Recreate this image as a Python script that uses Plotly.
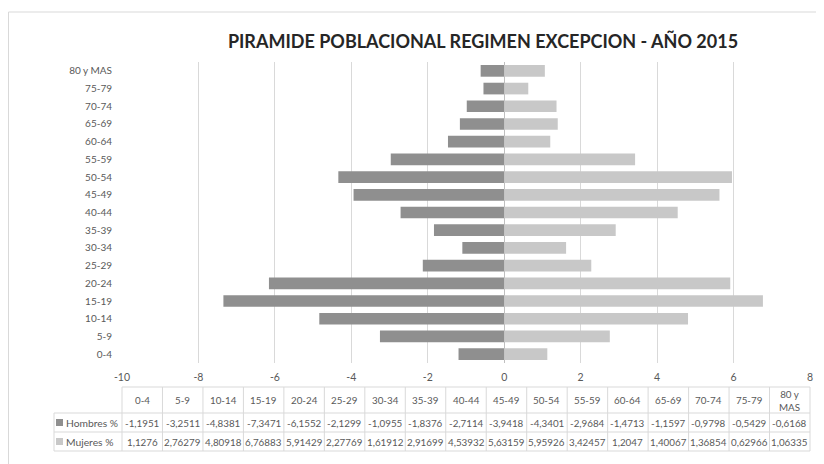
import plotly.graph_objects as go

categorias = ["0-4", "5-9", "10-14", "15-19", "20-24", "25-29", "30-34", "35-39",
              "40-44", "45-49", "50-54", "55-59", "60-64", "65-69", "70-74", "75-79", "80 y MAS"]
hombres = [-1.1951, -3.2511, -4.8381, -7.3471, -6.1552, -2.1299, -1.0955, -1.8376,
           -2.7114, -3.9418, -4.3401, -2.9684, -1.4713, -1.1597, -0.9798, -0.5429, -0.6168]
mujeres = [1.1276, 2.76279, 4.80918, 6.76883, 5.91429, 2.27769, 1.61912, 2.91699,
           4.53932, 5.63159, 5.95926, 3.42457, 1.2047, 1.40067, 1.36854, 0.62966, 1.06335]
hombres_txt = ["-1,1951", "-3,2511", "-4,8381", "-7,3471", "-6,1552", "-2,1299", "-1,0955", "-1,8376",
               "-2,7114", "-3,9418", "-4,3401", "-2,9684", "-1,4713", "-1,1597", "-0,9798", "-0,5429", "-0,6168"]
mujeres_txt = ["1,1276", "2,76279", "4,80918", "6,76883", "5,91429", "2,27769", "1,61912", "2,91699",
               "4,53932", "5,63159", "5,95926", "3,42457", "1,2047", "1,40067", "1,36854", "0,62966", "1,06335"]
x_ticks = [-10, -8, -6, -4, -2, 0, 2, 4, 6, 8]

# page body has an 8px margin: figure origin sits at (8, 8) in the screenshot
OX, OY = 8, 8
W, H = 816, 456
PL, PR, PT, PB = 122, 810, 62, 363  # plot area in screenshot pixels
L, R, T, B = PL - OX, (W + OX) - PR, PT - OY, (H + OY) - PB
PW, PH = W - L - R, H - T - B
FONT = "Lato"
TXT = "#595959"
GRID = "#d9d9d9"
C_H = "#8f8f8f"
C_M = "#c8c8c8"


def px(x):
    return (x - PL) / PW


def py(y):
    return (PB - y) / PH


fig = go.Figure()
fig.add_trace(go.Bar(y=categorias, x=hombres, orientation="h", name="Hombres %",
                     marker=dict(color=C_H, line=dict(width=0))))
fig.add_trace(go.Bar(y=categorias, x=mujeres, orientation="h", name="Mujeres %",
                     marker=dict(color=C_M, line=dict(width=0))))

shapes = []
annotations = []
line = dict(color=GRID, width=1)

# outer chart frame (cut by the image edges)
shapes.append(dict(type="line", xref="paper", yref="paper", x0=px(8.5), x1=px(W + OX + 5),
                   y0=py(12), y1=py(12), line=line))
shapes.append(dict(type="line", xref="paper", yref="paper", x0=px(8.5), x1=px(8.5),
                   y0=py(12), y1=py(H + OY + 5), line=line))

# data table
n = len(categorias)
col_w = PW / n
x_left = PL
x_right = PR
x_leg = 54
y_top, y_h, y_m, y_bot = 387, 413, 432, 451

for yy, x0 in [(y_top, x_left), (y_h, x_leg), (y_m, x_leg), (y_bot, x_leg)]:
    shapes.append(dict(type="line", xref="paper", yref="paper", x0=px(x0), x1=px(x_right),
                       y0=py(yy), y1=py(yy), line=line))
for i in range(n + 1):
    xx = x_left + i * col_w
    shapes.append(dict(type="line", xref="paper", yref="paper", x0=px(xx), x1=px(xx),
                       y0=py(y_top), y1=py(y_bot), line=line))
shapes.append(dict(type="line", xref="paper", yref="paper", x0=px(x_leg), x1=px(x_leg),
                   y0=py(y_h), y1=py(y_bot), line=line))

TS = 9.8
for i, cat in enumerate(categorias):
    xc = px(x_left + (i + 0.5) * col_w)
    label = cat.replace("80 y MAS", "80 y<br>MAS")
    annotations.append(dict(x=xc, y=py((y_top + y_h) / 2), xref="paper", yref="paper",
                            text=label, showarrow=False, xanchor="center", yanchor="middle",
                            font=dict(family=FONT, size=TS, color=TXT)))
    annotations.append(dict(x=xc, y=py((y_h + y_m) / 2), xref="paper", yref="paper",
                            text=hombres_txt[i], showarrow=False, xanchor="center", yanchor="middle",
                            font=dict(family=FONT, size=TS, color=TXT)))
    annotations.append(dict(x=xc, y=py((y_m + y_bot) / 2), xref="paper", yref="paper",
                            text=mujeres_txt[i], showarrow=False, xanchor="center", yanchor="middle",
                            font=dict(family=FONT, size=TS, color=TXT)))

for (y0, y1), name, col in [((y_h, y_m), "Hombres %", C_H), ((y_m, y_bot), "Mujeres %", C_M)]:
    yc = (y0 + y1) / 2
    shapes.append(dict(type="rect", xref="paper", yref="paper", x0=px(56), x1=px(63),
                       y0=py(yc + 3.5), y1=py(yc - 3.5), fillcolor=col, line=dict(width=0)))
    annotations.append(dict(x=px(64), y=py(yc), xref="paper", yref="paper", text=name,
                            showarrow=False, xanchor="left", yanchor="middle",
                            font=dict(family=FONT, size=10.3, color=TXT)))

fig.update_layout(
    width=W, height=H,
    margin=dict(l=L, r=R, t=T, b=B),
    paper_bgcolor="white", plot_bgcolor="white",
    barmode="relative", bargap=0.34,
    showlegend=False,
    title=dict(text="<b>PIRAMIDE POBLACIONAL REGIMEN EXCEPCION - AÑO 2015</b>",
               x=(483 - OX) / W, xanchor="center", y=1 - (42 - OY) / H, yanchor="middle",
               font=dict(family=FONT, size=18, color="#262626")),
    xaxis=dict(range=[-10, 8.0005], tickvals=x_ticks, ticktext=[str(v) for v in x_ticks],
               showgrid=True, gridcolor=GRID, gridwidth=1, zeroline=True,
               zerolinecolor="#bfbfbf", zerolinewidth=1, showline=False, ticks="",
               tickfont=dict(family=FONT, size=10.5, color=TXT), ticklabelstandoff=6),
    yaxis=dict(categoryorder="array", categoryarray=categorias, showgrid=False,
               showline=False, ticks="", zeroline=False,
               tickfont=dict(family=FONT, size=10, color=TXT), ticklabelstandoff=9),
    shapes=shapes,
    annotations=annotations,
)

fig.write_html("out.html")
